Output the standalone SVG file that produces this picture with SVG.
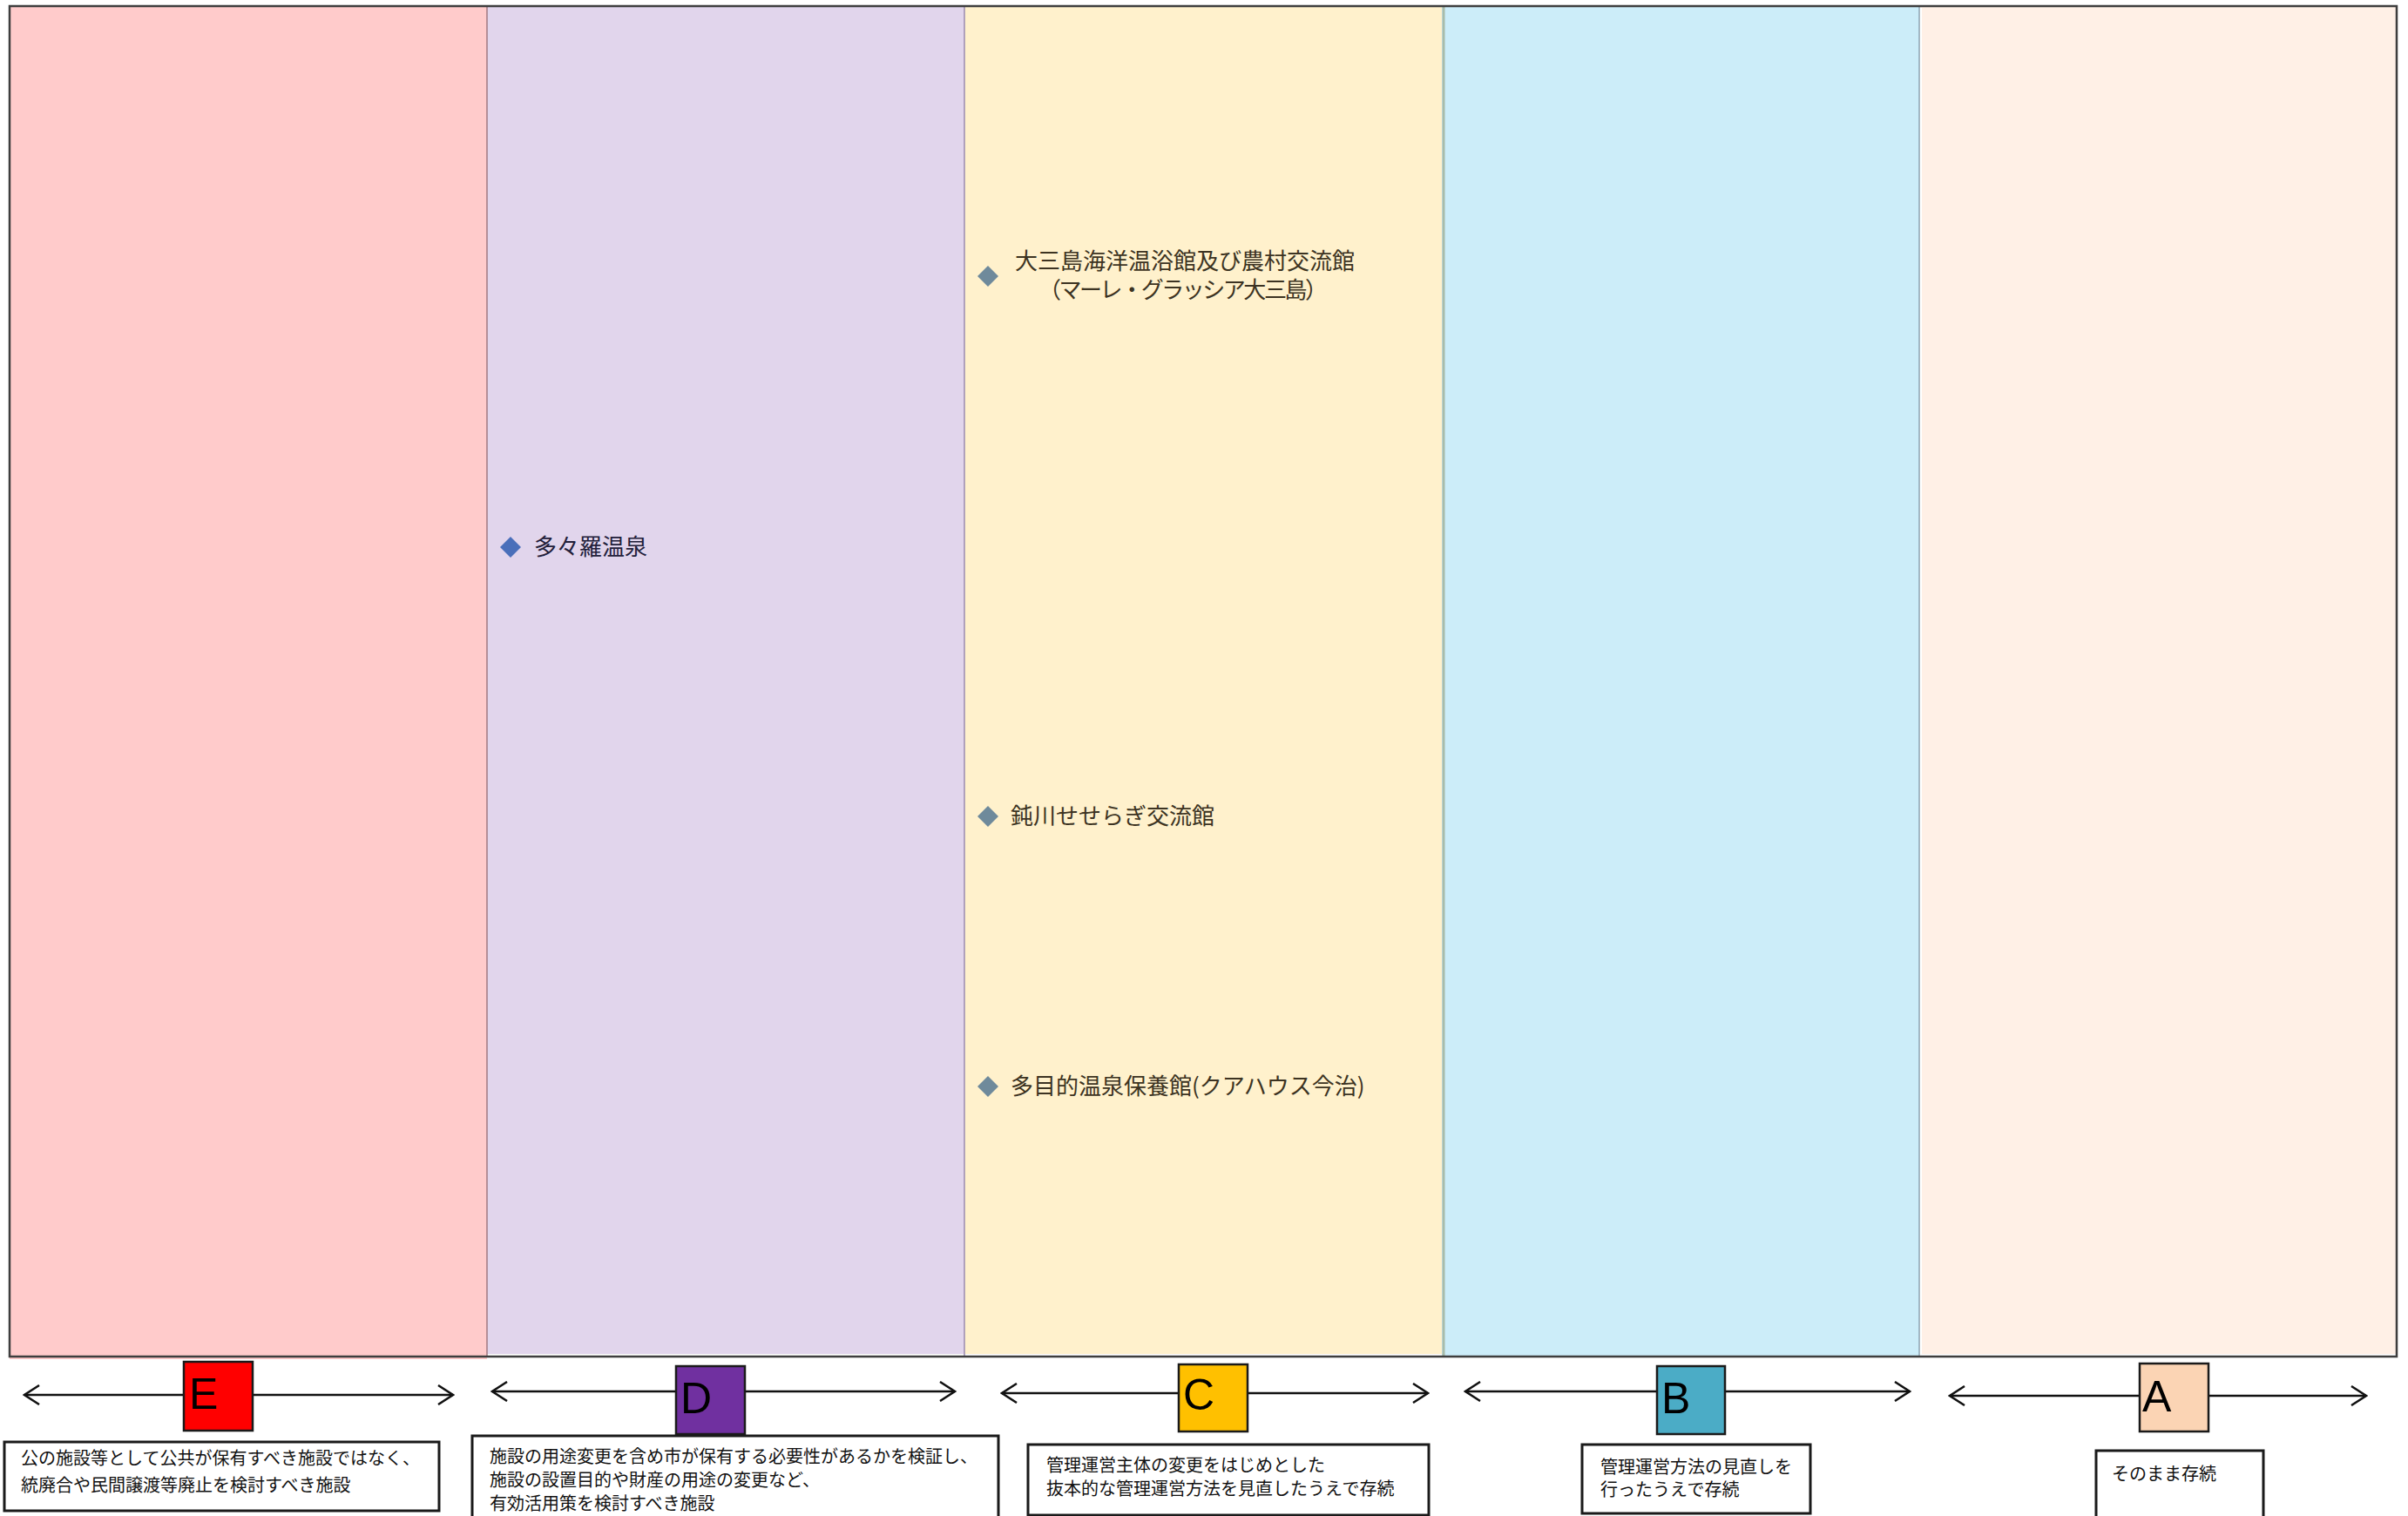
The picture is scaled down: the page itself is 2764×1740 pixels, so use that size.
<svg xmlns="http://www.w3.org/2000/svg" width="2764" height="1740" viewBox="0 0 2764 1740">
<style>
.col{stroke:none}
.item{font-family:"Noto Sans CJK JP","Noto Sans",sans-serif;font-size:26px}
.itemY{fill:#3c3322}
.itemP{fill:#22203a}
.dY{fill:#6f8a9b}
.dP{fill:#4a6fba}
.letterbox{stroke:#1a1a1a;stroke-width:2.5}
.letter{font-family:"Liberation Sans",Arial,sans-serif;font-size:50px;fill:#000}
.descbox{fill:#fff;stroke:#1a1a1a;stroke-width:3}
.desc{font-family:"Noto Sans CJK JP","Noto Sans",sans-serif;font-size:20px;fill:#111}
.arrow{stroke:#111;stroke-width:2.5;fill:none;marker-start:url(#head);marker-end:url(#head)}
</style>
<defs>
<marker id="head" viewBox="0 0 20 24" refX="18" refY="12" markerWidth="20" markerHeight="24" markerUnits="userSpaceOnUse" orient="auto-start-reverse">
<path d="M1,1 L18,12 L1,23" fill="none" stroke="#111" stroke-width="2.5"/>
</marker>
</defs>
<rect width="2764" height="1740" fill="#fff"/>
<g id="columns">
<rect class="col" x="11" y="7" width="548" height="1553" fill="#ffcbcb"/>
<rect class="col" x="559" y="7" width="548" height="1547" fill="#e1d5ec"/>
<rect class="col" x="1107" y="7" width="548" height="1547" fill="#fff1cc"/>
<rect class="col" x="1655" y="7" width="548" height="1550" fill="#ccedf9"/>
<rect class="col" x="2203" y="7" width="548" height="1547" fill="#fff0e6"/>
<line x1="559" y1="7" x2="559" y2="1557" stroke="#a07880" stroke-width="1.5"/>
<line x1="1107" y1="7" x2="1107" y2="1557" stroke="#9a8ab0" stroke-width="1.5"/>
<line x1="1657" y1="7" x2="1657" y2="1557" stroke="#a8bcaa" stroke-width="3"/>
<line x1="2203" y1="7" x2="2203" y2="1557" stroke="#8ea6b6" stroke-width="1.5"/>
<line x1="2205" y1="9" x2="2205" y2="1555" stroke="#ffffff" stroke-width="2"/>
<rect x="11" y="7" width="2740" height="1550" fill="none" stroke="#3e3e3e" stroke-width="2.5"/>
</g>
<g id="item-tatara">
<path class="dP" d="M586,616 L598,628 L586,640 L574,628 Z"/>
<text class="item itemP" x="613" y="637">多々羅温泉</text>
</g>
<g id="item-omishima">
<path class="dY" d="M1134,305 L1146,317 L1134,329 L1122,317 Z"/>
<text class="item itemY" x="1360" y="309" text-anchor="middle">大三島海洋温浴館及び農村交流館</text>
<text class="item itemY" x="1358" y="342" text-anchor="middle" textLength="332" lengthAdjust="spacing">（マーレ・グラッシア大三島）</text>
</g>
<g id="item-nibukawa">
<path class="dY" d="M1134,925 L1146,937 L1134,949 L1122,937 Z"/>
<text class="item itemY" x="1160" y="946">鈍川せせらぎ交流館</text>
</g>
<g id="item-kurhaus">
<path class="dY" d="M1134,1235 L1146,1247 L1134,1259 L1122,1247 Z"/>
<text class="item itemY" x="1160" y="1256">多目的温泉保養館(クアハウス今治)</text>
</g>
<g id="connectors">
<line class="arrow" x1="28" y1="1601" x2="520" y2="1601"/>
<line class="arrow" x1="565" y1="1597" x2="1096" y2="1597"/>
<line class="arrow" x1="1150" y1="1599" x2="1639" y2="1599"/>
<line class="arrow" x1="1682" y1="1597" x2="2192" y2="1597"/>
<line class="arrow" x1="2238" y1="1602" x2="2716" y2="1602"/>
</g>
<g id="node-E">
<rect class="letterbox" x="211" y="1563" width="79" height="79" fill="#ff0000"/>
<text class="letter" x="217" y="1617">E</text>
<rect class="descbox" x="5" y="1655" width="499" height="79"/>
<text class="desc" x="24" y="1681">公の施設等として公共が保有すべき施設ではなく、</text>
<text class="desc" x="24" y="1712">統廃合や民間譲渡等廃止を検討すべき施設</text>
</g>
<g id="node-D">
<rect class="letterbox" x="776" y="1568" width="79" height="78" fill="#7030a0"/>
<text class="letter" x="781" y="1622">D</text>
<rect class="descbox" x="542" y="1648" width="604" height="100"/>
<text class="desc" x="562" y="1679">施設の用途変更を含め市が保有する必要性があるかを検証し、</text>
<text class="desc" x="562" y="1706">施設の設置目的や財産の用途の変更など、</text>
<text class="desc" x="562" y="1733">有効活用策を検討すべき施設</text>
</g>
<g id="node-C">
<rect class="letterbox" x="1353" y="1566" width="79" height="77" fill="#ffc000"/>
<text class="letter" x="1358" y="1618">C</text>
<rect class="descbox" x="1180" y="1658" width="460" height="81"/>
<text class="desc" x="1201" y="1689">管理運営主体の変更をはじめとした</text>
<text class="desc" x="1201" y="1716">抜本的な管理運営方法を見直したうえで存続</text>
</g>
<g id="node-B">
<rect class="letterbox" x="1902" y="1568" width="78" height="78" fill="#4bacc6"/>
<text class="letter" x="1907" y="1622">B</text>
<rect class="descbox" x="1816" y="1658" width="262" height="79"/>
<text class="desc" x="1837" y="1691">管理運営方法の見直しを</text>
<text class="desc" x="1837" y="1717">行ったうえで存続</text>
</g>
<g id="node-A">
<rect class="letterbox" x="2456" y="1565" width="79" height="78" fill="#fbd4b4"/>
<text class="letter" x="2459" y="1620">A</text>
<rect class="descbox" x="2406" y="1665" width="192" height="78"/>
<text class="desc" x="2424" y="1699">そのまま存続</text>
</g>
</svg>
